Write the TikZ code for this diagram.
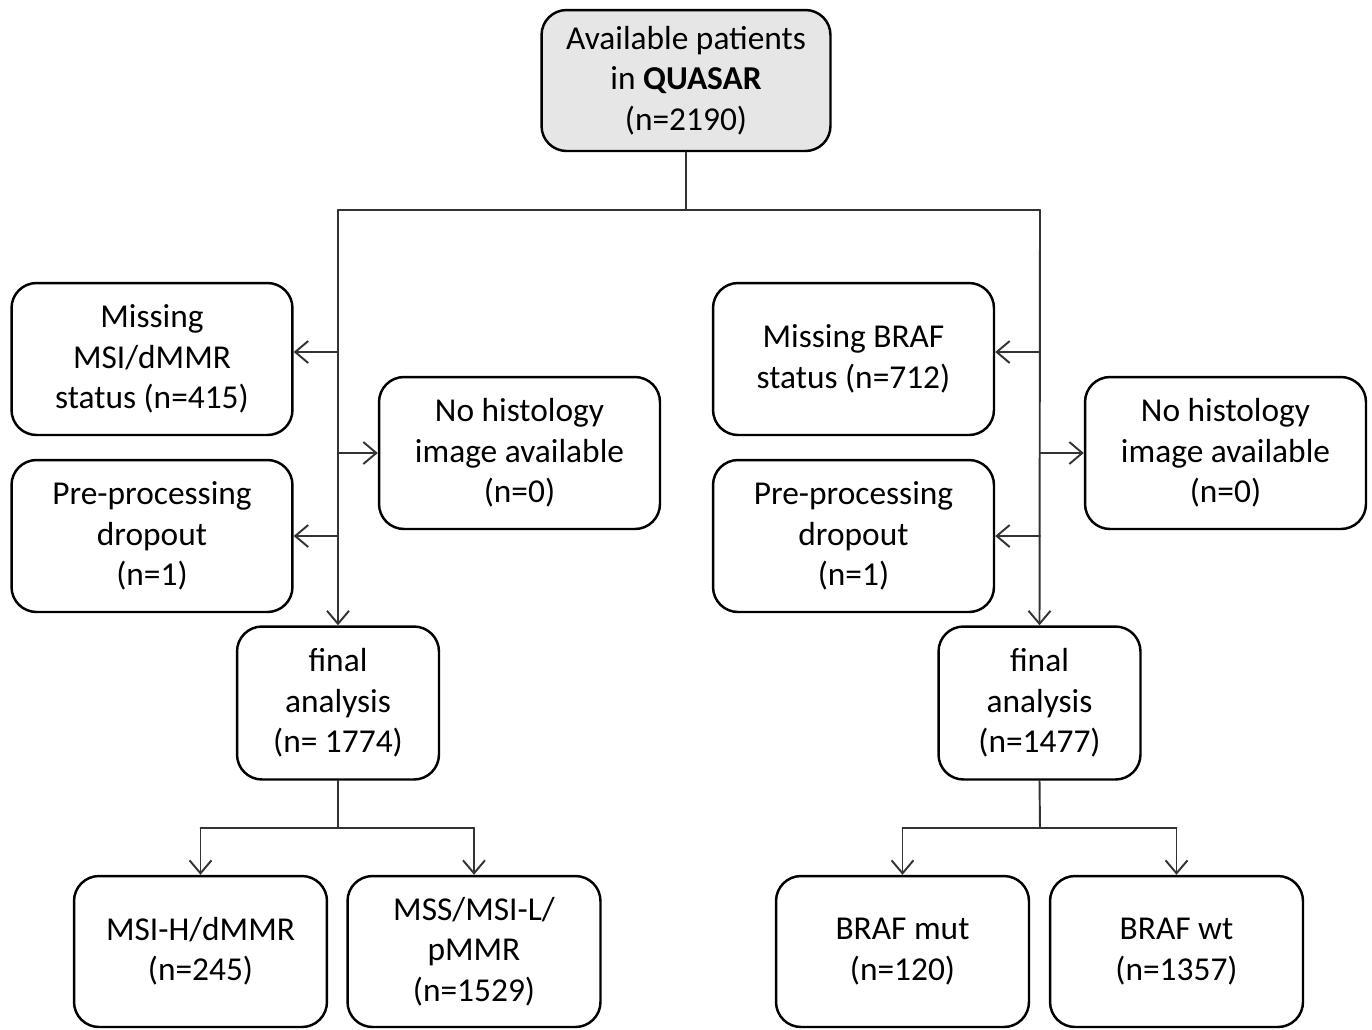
\documentclass[tikz,border=0pt]{standalone}
\usepackage{fontspec}
\setmainfont{Carlito}
\usetikzlibrary{arrows.meta}
\definecolor{boxgray}{HTML}{E6E6E6}
\definecolor{linegray}{HTML}{333333}
\tikzset{
    box/.style={
        draw=black, line width=1.4pt, rounded corners=0.5cm,
        align=center, inner sep=0pt,
        font=\fontsize{19}{23}\selectfont
    },
    wbox/.style={box, minimum width=5.62cm, minimum height=3.04cm},
    fbox/.style={box, minimum width=4.04cm, minimum height=3.06cm},
    sbox/.style={box, minimum width=5.06cm, minimum height=3.02cm},
    conn/.style={draw=linegray, line width=1.1pt},
    arr/.style={conn, -{Straight Barb[length=2.6mm, width=4.4mm, line width=1.1pt]}}
}

\begin{document}
\begin{tikzpicture}[x=0.02cm, y=-0.02cm, line cap=round, line join=round]

\useasboundingbox (0,0) rectangle (1372,1029);

% top
\node[box, fill=boxgray, minimum width=5.78cm, minimum height=2.82cm] (top) at (686,80.5)
    {Available patients\\in \textbf{QUASAR}\\(n=2190)};

\coordinate (jL) at (338,210);
\coordinate (jR) at (1040,210);

% left branch (MSI/dMMR)
\node[wbox] (missL) at (152,359) {Missing\\MSI/dMMR\\status (n=415)};
\node[wbox] (preL) at (152,536) {Pre-processing\\dropout\\(n=1)};
\node[wbox] (histL) at (519.5,453) {No histology\\image available\\(n=0)};
\node[fbox] (finL) at (338,703) {final\\analysis\\(n= 1774)};
\node[sbox] (msih) at (200.5,951.5) {MSI-H/dMMR\\(n=245)};
\node[sbox] (mss) at (474,951.5) {MSS/MSI-L/\\pMMR\\(n=1529)};

% right branch (BRAF)
\node[wbox] (missR) at (853.5,359) {Missing BRAF\\status (n=712)};
\node[wbox] (preR) at (853.5,536) {Pre-processing\\dropout\\(n=1)};
\node[wbox] (histR) at (1225.5,453) {No histology\\image available\\(n=0)};
\node[fbox] (finR) at (1039.5,703) {final\\analysis\\(n=1477)};
\node[sbox] (mut) at (902.5,951.5) {BRAF mut\\(n=120)};
\node[sbox] (wt) at (1176.5,951.5) {BRAF wt\\(n=1357)};

% trunk
\draw[conn] (top.south) -- (top.south |- jL);
\draw[conn] (jL) -- (jR);
\draw[arr] (jL) -- (finL.north);
\draw[arr] (jR) -- (finR.north);

% exclusions
\draw[arr] ([yshift=0.14cm]missL.east -| jL) -- ([yshift=0.14cm]missL.east);
\draw[arr] (preL.east -| jL) -- (preL.east);
\draw[arr] (histL.west -| jL) -- (histL.west);
\draw[arr] ([yshift=0.14cm]missR.east -| jR) -- ([yshift=0.14cm]missR.east);
\draw[arr] (preR.east -| jR) -- (preR.east);
\draw[arr] (histR.west -| jR) -- (histR.west);

% splits
\coordinate (sL) at (338,828);
\coordinate (sR) at (1040,828);
\draw[conn] (finL.south) -- (sL);
\draw[conn] (msih.north |- sL) -- (mss.north |- sL);
\draw[arr] (msih.north |- sL) -- (msih.north);
\draw[arr] (mss.north |- sL) -- (mss.north);
\draw[conn] (finR.south) -- (sR);
\draw[conn] (mut.north |- sR) -- (wt.north |- sR);
\draw[arr] (mut.north |- sR) -- (mut.north);
\draw[arr] (wt.north |- sR) -- (wt.north);

\end{tikzpicture}
\end{document}
